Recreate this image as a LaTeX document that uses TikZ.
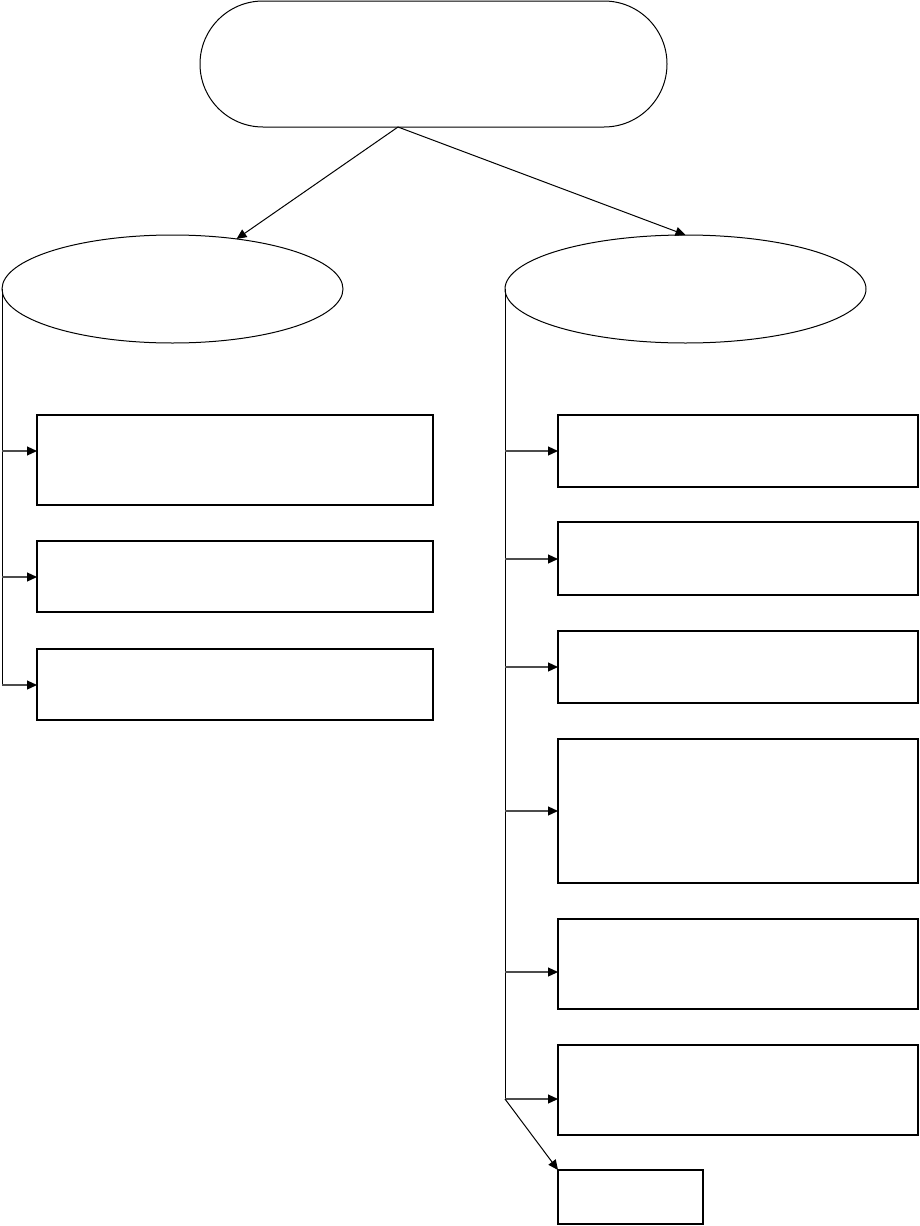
\documentclass[tikz,border=0pt]{standalone}
\usetikzlibrary{shapes.geometric,arrows.meta}

\tikzset{
  box/.style={draw, line width=1.5pt, inner sep=0pt, outer sep=0pt},
  oval/.style={draw, ellipse, line width=1pt, inner sep=0pt, outer sep=0pt},
  arr/.style={line width=1pt, -{Triangle[length=10pt,width=9pt]}},
  branch/.style={line width=1.2pt, draw=black!70, -{Triangle[length=10pt,width=9pt,color=black]}},
  trunk/.style={line width=1pt}
}

\begin{document}
\begin{tikzpicture}[x=1pt,y=-1pt]
				\useasboundingbox (0,0) rectangle (920,1226);
				
				\node[draw, line width=1pt, rounded corners=63pt, minimum width=467pt, minimum height=126pt, inner sep=0pt] (top) at (433.5,64) {};
				\coordinate (fork) at (398,127);
				
				\node[oval, minimum width=341pt, minimum height=108pt] (le) at (172.5,289) {};
				\node[oval, minimum width=361pt, minimum height=108pt] (re) at (685.5,289) {};
				
				\draw[arr] (fork) -- (le.38);
				\draw[arr] (fork) -- (re.north);
				
				% left column
				\node[box, minimum width=396pt, minimum height=90pt] (l1) at (235,460) {};
				\node[box, minimum width=396pt, minimum height=71pt] (l2) at (235,576.5) {};
				\node[box, minimum width=396pt, minimum height=71pt] (l3) at (235,684.5) {};
				
				\draw[trunk] (le.west) -- (le.west |- l3.west);
				\foreach \b/\y in {l1/451,l2/577,l3/685}
					\draw[branch] (le.west |- 0,\y) -- (\b.west |- 0,\y);
				
				% right column
				\node[box, minimum width=360pt, minimum height=72pt] (r1) at (738,451) {};
				\node[box, minimum width=360pt, minimum height=73pt] (r2) at (738,558.5) {};
				\node[box, minimum width=360pt, minimum height=72pt] (r3) at (738,667) {};
				\node[box, minimum width=360pt, minimum height=144pt] (r4) at (738,811) {};
				\node[box, minimum width=360pt, minimum height=90pt] (r5) at (738,964) {};
				\node[box, minimum width=360pt, minimum height=90pt] (r6) at (738,1090) {};
				\node[box, minimum width=145pt, minimum height=54pt] (r7) at (630.5,1197) {};
				
				\coordinate (rt) at (re.west |- 0,1099);
				\draw[trunk] (re.west) -- (rt);
				\foreach \b/\y in {r1/451,r2/559,r3/667,r4/811,r5/972,r6/1099}
					\draw[branch] (re.west |- 0,\y) -- (\b.west |- 0,\y);
				\draw[arr] (rt) -- (r7.north west);
			\end{tikzpicture}
\end{document}
